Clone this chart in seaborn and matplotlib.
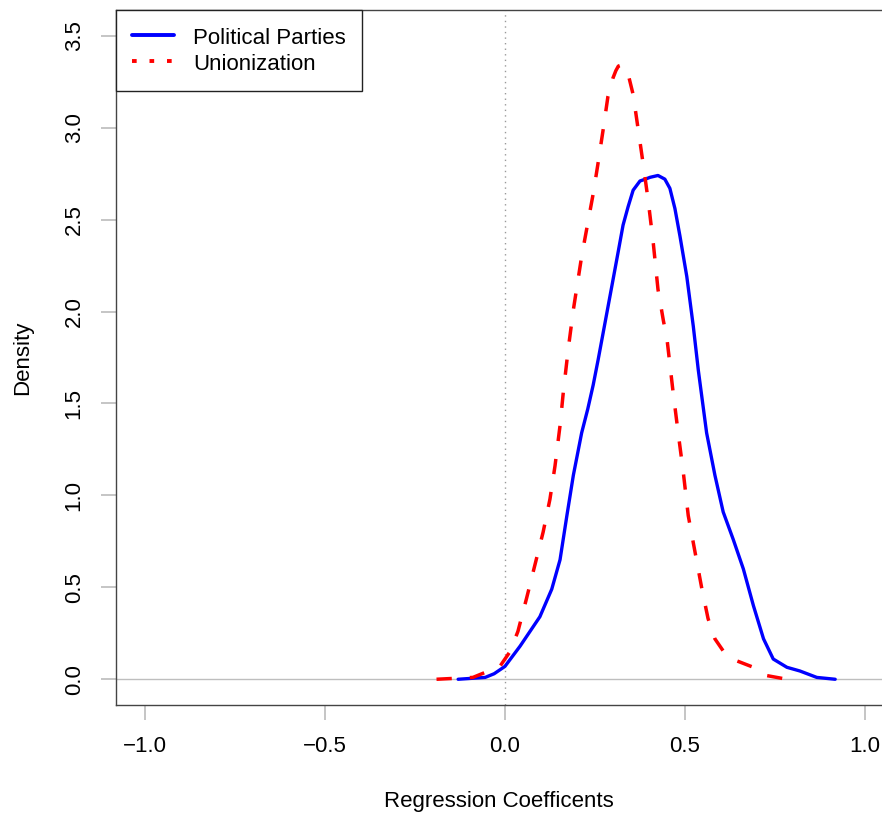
import matplotlib
matplotlib.use("Agg")
import matplotlib.pyplot as plt
from matplotlib.lines import Line2D
import seaborn as sns
import pandas as pd

pp_x = [-0.13, -0.055, -0.03, 0.0, 0.042, 0.097, 0.13, 0.153, 0.172, 0.19, 0.213, 0.23, 0.245, 0.259,
        0.278, 0.297, 0.314, 0.328, 0.342, 0.356, 0.375, 0.39, 0.403, 0.425, 0.444, 0.458, 0.472,
        0.486, 0.505, 0.523, 0.537, 0.56, 0.583, 0.606, 0.634, 0.662, 0.69, 0.718, 0.745, 0.783,
        0.819, 0.866, 0.917]
pp_y = [0.0, 0.01, 0.03, 0.07, 0.18, 0.34, 0.49, 0.65, 0.89, 1.11, 1.34, 1.47, 1.60, 1.74,
        1.94, 2.14, 2.32, 2.47, 2.57, 2.66, 2.71, 2.72, 2.73, 2.74, 2.72, 2.67, 2.56,
        2.41, 2.19, 1.92, 1.68, 1.34, 1.11, 0.91, 0.76, 0.60, 0.40, 0.22, 0.11, 0.065,
        0.045, 0.01, 0.0]

un_x = [-0.19, -0.089, -0.014, 0.014, 0.036, 0.06, 0.083, 0.106, 0.125, 0.139, 0.153, 0.162, 0.176,
        0.19, 0.213, 0.245, 0.258, 0.272, 0.286, 0.300, 0.308, 0.315, 0.322, 0.329, 0.338, 0.346,
        0.356, 0.37, 0.384, 0.398, 0.412, 0.425, 0.44, 0.45, 0.467, 0.481, 0.495, 0.509, 0.528,
        0.547, 0.564, 0.583, 0.611, 0.644, 0.69, 0.727, 0.783]
un_y = [0.0, 0.01, 0.07, 0.15, 0.26, 0.44, 0.62, 0.80, 0.98, 1.16, 1.38, 1.56, 1.80,
        2.01, 2.30, 2.64, 2.80, 2.98, 3.17, 3.27, 3.31, 3.335, 3.34, 3.335, 3.32, 3.26,
        3.18, 2.99, 2.80, 2.60, 2.37, 2.12, 1.95, 1.85, 1.56, 1.34, 1.13, 0.89, 0.69,
        0.49, 0.33, 0.22, 0.14, 0.10, 0.065, 0.02, 0.0]

series_labels = ["Political Parties", "Unionization"]
x_ticks = [-1.0, -0.5, 0.0, 0.5, 1.0]
y_ticks = [0.0, 0.5, 1.0, 1.5, 2.0, 2.5, 3.0, 3.5]

sns.set_style("ticks")
plt.rcParams['font.family'] = ['Liberation Sans', 'DejaVu Sans']
plt.rcParams['text.color'] = 'black'
plt.rcParams['axes.labelcolor'] = 'black'

fig = plt.figure(figsize=(8.82, 8.13), dpi=100)
W, H = 882, 813
ax = fig.add_axes([116 / W, (H - 705) / H, (882 - 116) / W, (705 - 10) / H])

ax.axhline(0, color="#bebebe", lw=1.0, zorder=1)
ax.axvline(0, color="#999999", lw=1.0, ls=(0, (1, 3)), zorder=1)

df_pp = pd.DataFrame({"x": pp_x, "y": pp_y})
df_un = pd.DataFrame({"x": un_x, "y": un_y})
sns.lineplot(data=df_pp, x="x", y="y", ax=ax, color="#0000ff", lw=2.4,
             sort=False, estimator=None, zorder=3)
sns.lineplot(data=df_un, x="x", y="y", ax=ax, color="#ff0000", lw=2.5,
             sort=False, estimator=None, zorder=3)
ax.lines[-1].set_linestyle((0, (4.4, 5.2)))
for ln in ax.lines[-2:]:
    ln.set_solid_capstyle("round")
    ln.set_solid_joinstyle("round")

ax.set_xlim(-1.08, 1.047)
ax.set_ylim(-0.14, 3.64)
ax.set_xticks(x_ticks)
ax.set_xticklabels([f"{v:.1f}".replace("-", "\u2212") for v in x_ticks])
ax.set_yticks(y_ticks)
ax.set_yticklabels([f"{v:.1f}" for v in y_ticks], rotation=90, va="center")

for side in ["left", "bottom", "top"]:
    ax.spines[side].set_visible(True)
    ax.spines[side].set_color("#444444")
    ax.spines[side].set_linewidth(1.0)
ax.spines["right"].set_visible(False)

ax.tick_params(axis="both", which="major", direction="out", length=10.5, width=1.2,
               color="#bbbbbb", labelsize=16, labelcolor="black")
ax.tick_params(axis="x", pad=12)
ax.tick_params(axis="y", pad=12)
ax.set_xlabel("Regression Coefficents", fontsize=16, labelpad=24)
ax.set_ylabel("Density", fontsize=16, labelpad=22)

handles = [Line2D([], [], color="#0000ff", lw=2.8),
           Line2D([], [], color="#ff0000", lw=2.8, ls=(0, (1.2, 3.3)))]
leg = ax.legend(handles, series_labels, loc="upper left", borderaxespad=0,
                fancybox=False, frameon=True, edgecolor="#222222", framealpha=1,
                fontsize=16, handlelength=1.9, handletextpad=0.85, handleheight=1.1,
                labelspacing=0.1, borderpad=0.72)
leg.get_frame().set_linewidth(1.0)

fig.savefig("out.png", dpi=100)
